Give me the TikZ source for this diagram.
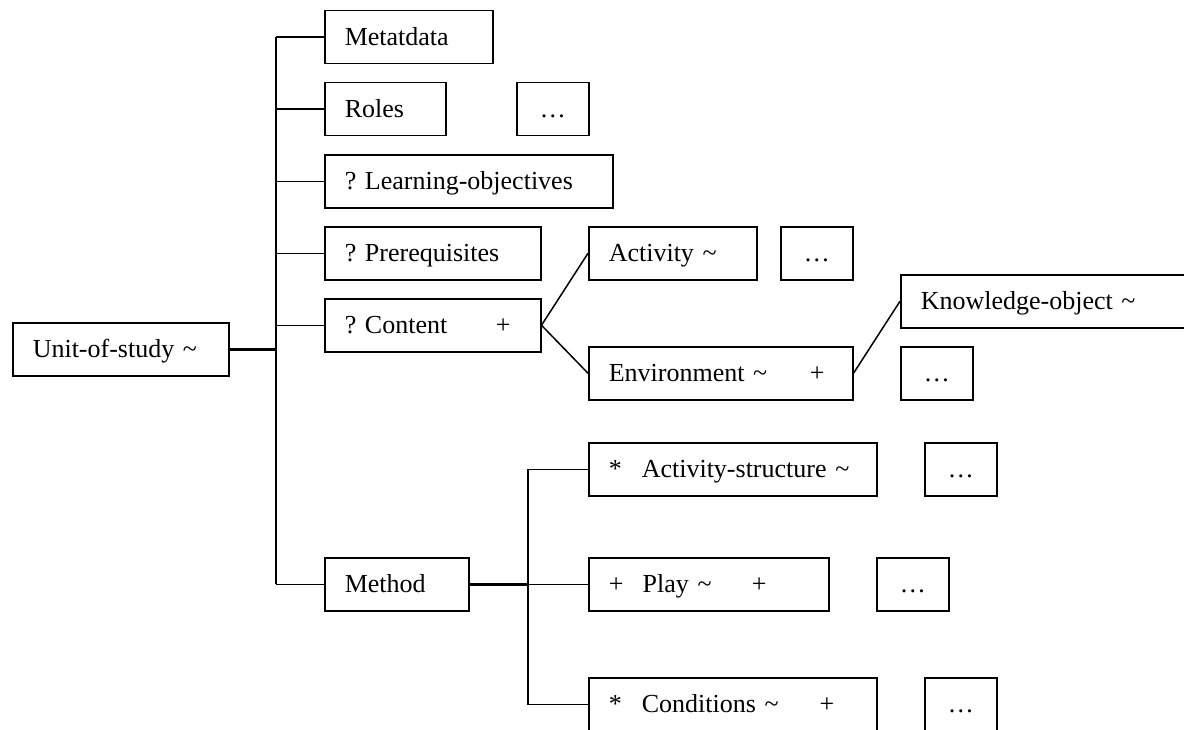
\documentclass[tikz,border=0pt]{standalone}
\usepackage{fontspec}
\setmainfont{Liberation Serif}
\frenchspacing
\begin{document}
\begin{tikzpicture}[x=1pt,y=-1pt,
  box/.style={draw, line width=1.5pt, anchor=north west, inner xsep=20pt, inner ysep=0pt,
    minimum height=53pt, text height=35pt, text depth=18pt, align=left,
    font=\fontsize{26}{30}\selectfont\frenchspacing},
  dotsbox/.style={box, inner xsep=0pt, text width=72pt, align=center},
  conn/.style={line width=1.5pt},
  thickconn/.style={line width=2.6pt}]
\useasboundingbox (0,0) rectangle (1184,729);

% main column
\node[box, text width=128pt] (meta) at (324,9.5) {\mbox{Metatdata}};
\node[box, text width=81pt] (roles) at (324,81.5) {\mbox{Roles}};
\node[dotsbox] (rolesdots) at (516,81.5) {…};
\node[box, text width=248pt] (lo) at (324,154) {\mbox{? Learning-objectives}};
\node[box, text width=176pt] (prereq) at (324,226) {\mbox{? Prerequisites}};
\node[box, text width=176pt] (content) at (324,298) {\mbox{\makebox[151pt][l]{? Content}+}};
\node[box, text width=176pt] (unit) at (12,322) {\mbox{Unit-of-study \textasciitilde}};
\node[box, text width=104pt] (method) at (324,557) {\mbox{Method}};

% content branch
\node[box, text width=128pt] (activity) at (588,226) {\mbox{Activity \textasciitilde}};
\node[dotsbox] (actdots) at (780,226) {…};
\node[box, text width=248pt] (ko) at (900,274) {\mbox{Knowledge-object \textasciitilde}};
\node[box, text width=224pt] (env) at (588,346) {\mbox{\makebox[201pt][l]{Environment \textasciitilde}+}};
\node[dotsbox] (envdots) at (900,346) {…};

% method branch
\node[box, text width=248pt] (as) at (588,442) {\mbox{\makebox[33pt][l]{*}Activity-structure \textasciitilde}};
\node[dotsbox] (asdots) at (924,442) {…};
\node[box, text width=200pt] (play) at (588,557) {\mbox{\makebox[34pt][l]{+}\makebox[109pt][l]{Play \textasciitilde}+}};
\node[dotsbox] (playdots) at (876,557) {…};
\node[box, text width=248pt] (cond) at (588,677) {\mbox{\makebox[33pt][l]{*}\makebox[178pt][l]{Conditions \textasciitilde}+}};
\node[dotsbox] (conddots) at (924,677) {…};

% trunks
\coordinate (trunk) at (276,0);
\coordinate (sub) at (528,0);

\draw[conn] (meta.west -| trunk) -- (method.west -| trunk);
\foreach \n in {meta,roles,lo,prereq,content,method}
  \draw[conn] (\n.west -| trunk) -- (\n.west);
\draw[thickconn] (unit.east) -- (unit.east -| trunk);

% content links
\draw[conn] (content.east) -- (activity.west);
\draw[conn] (content.east) -- (env.west);
\draw[conn] (env.east) -- (ko.west);

% method links
\draw[thickconn] (method.east) -- (method.east -| sub);
\draw[conn] (method.east -| sub) -- (play.west);
\draw[conn] (as.west) -- (as.west -| sub) -- (cond.west -| sub) -- (cond.west);
\end{tikzpicture}
\end{document}
